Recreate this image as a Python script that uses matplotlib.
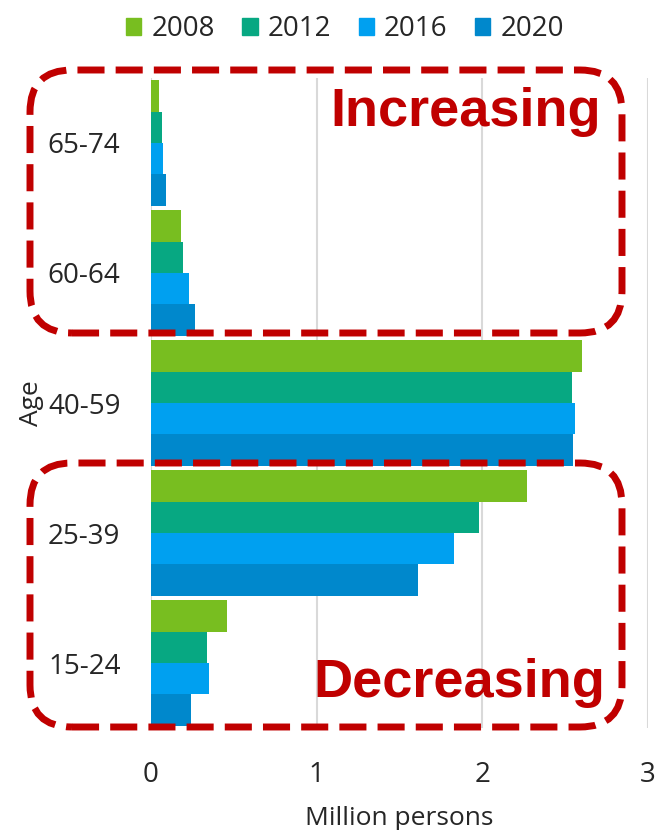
import matplotlib
matplotlib.use("Agg")
import matplotlib.pyplot as plt
from matplotlib.patches import FancyBboxPatch
from matplotlib.patches import Patch
import numpy as np

ages = ["15-24", "25-39", "40-59", "60-64", "65-74"]
years = ["2008", "2012", "2016", "2020"]
v2008 = [0.46, 2.27, 2.60, 0.18, 0.05]
v2012 = [0.34, 1.98, 2.54, 0.195, 0.065]
v2016 = [0.35, 1.83, 2.56, 0.23, 0.075]
v2020 = [0.24, 1.61, 2.55, 0.265, 0.088]
series = [v2008, v2012, v2016, v2020]
colors = ["#78BE20", "#07A882", "#00A0F0", "#0088CC"]
xticks = [0, 1, 2, 3]

fig = plt.figure(figsize=(6.57, 8.30), dpi=100)
ax = fig.add_axes([151/657, 1-728/830, (648-151)/657, (728-78)/830])

h = 0.242
y = np.arange(len(ages))
offs = [1.5, 0.5, -0.5, -1.5]
for s, c, o, lab in zip(series, colors, offs, years):
    ax.barh(y + o*h, s, height=h, color=c, label=lab, zorder=3)

txtc = "#262626"
ax.set_xlim(0, 3)
ax.set_ylim(-0.5, len(ages)-0.5)
ax.set_yticks(y)
ax.set_yticklabels(ages)
ax.set_xticks(xticks)
ax.set_xticklabels([str(t) for t in xticks])
for sp in ax.spines.values():
    sp.set_visible(False)
ax.tick_params(length=0, labelsize=20, colors=txtc)
ax.tick_params(axis="y", pad=22)
ax.tick_params(axis="x", pad=24)
for lbl in ax.get_xticklabels() + ax.get_yticklabels():
    lbl.set_fontfamily("Open Sans")
ax.grid(axis="x", color="#D9D9D9", linewidth=1.5, zorder=0)
ax.set_ylabel("Age", fontsize=19, family="Open Sans", color=txtc, labelpad=3)
ax.set_xlabel("Million persons", fontsize=19, family="Open Sans", color=txtc, labelpad=12)

handles = [Patch(color=c) for c in colors]
fig.legend(handles, years, loc="upper center", bbox_to_anchor=(0.525, 1.012), ncol=4,
           frameon=False, handlelength=0.55, handleheight=0.55, handletextpad=0.35,
           columnspacing=1.0, labelcolor=txtc, prop={"family": "Open Sans", "size": 20})

red = "#C00000"
for (x0, y0, w, hh) in [(0.30, 4.97, 5.92, 2.63), (0.30, 1.03, 5.92, 2.64)]:
    p = FancyBboxPatch((x0, y0), w, hh, boxstyle="round,pad=0,rounding_size=0.42",
                       transform=fig.dpi_scale_trans, fill=False, edgecolor=red,
                       linewidth=5, linestyle=(0, (3.9, 1.6)), zorder=10)
    fig.add_artist(p)

fig.text(601/657, 1-112/830, "Increasing", ha="right", va="center", color=red,
         fontsize=39, fontweight="bold", family="Liberation Sans")
fig.text(605/657, 1-683/830, "Decreasing", ha="right", va="center", color=red,
         fontsize=39, fontweight="bold", family="Liberation Sans")

fig.savefig("out.png", dpi=100)
